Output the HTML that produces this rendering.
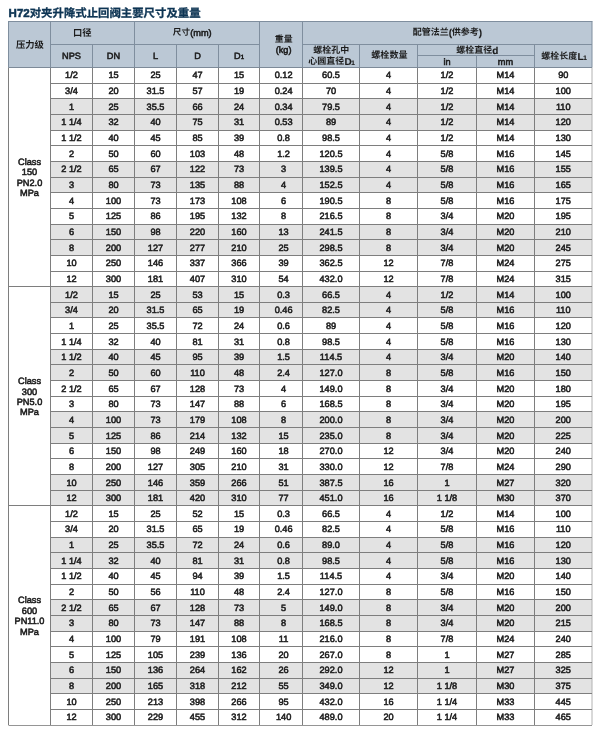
<!DOCTYPE html>
<html lang="zh-CN"><head><meta charset="utf-8">
<title>H72对夹升降式止回阀主要尺寸及重量</title>
<style>
html,body{margin:0;padding:0;background:#fff}
body{width:600px;height:731px;position:relative;overflow:hidden;-webkit-text-stroke:0.55px;font-family:"Liberation Sans","Noto Sans CJK SC",sans-serif;font-size:9.2px;text-rendering:geometricPrecision;color:#1c1c1c}
#grid{position:absolute;left:0;top:0}
#txt{position:absolute;left:0;top:0;width:600px;height:731px;will-change:transform}
h1{position:absolute;margin:0;left:8.6px;top:7px;font-size:11.5px;line-height:14px;font-weight:bold;color:#0d3453;white-space:nowrap;font-family:"Liberation Sans","Noto Sans CJK SC",sans-serif}
h1 .t{font-size:11.4px;-webkit-text-stroke:0.3px}
.c{position:absolute;width:60px;margin-left:-30px;text-align:center;white-space:nowrap;height:11px;line-height:11px}
.h{position:absolute;white-space:nowrap;line-height:11px;height:11px}
.hc{width:60px;margin-left:-30px;text-align:center}
.s{font-size:6px}
.b{font-weight:bold;font-size:10px;-webkit-text-stroke:0.15px}
.b .s{font-size:6.5px;margin-left:-0.3px}
.z{font-weight:bold;-webkit-text-stroke:0;font-family:"Liberation Sans","Noto Sans CJK SC",sans-serif}

</style></head><body>
<svg id="grid" width="600" height="731" viewBox="0 0 600 731">
<rect x="8.5" y="21.5" width="583.5" height="46" fill="#bbc8d5"/>
<rect x="50.5" y="98.81" width="541.5" height="31.31" fill="#e3e3e3"/>
<rect x="50.5" y="161.43" width="541.5" height="31.31" fill="#e3e3e3"/>
<rect x="50.5" y="224.05" width="541.5" height="31.31" fill="#e3e3e3"/>
<rect x="50.5" y="286.67" width="541.5" height="31.31" fill="#e3e3e3"/>
<rect x="50.5" y="349.29" width="541.5" height="31.31" fill="#e3e3e3"/>
<rect x="50.5" y="411.9" width="541.5" height="31.31" fill="#e3e3e3"/>
<rect x="50.5" y="474.52" width="541.5" height="31.31" fill="#e3e3e3"/>
<rect x="50.5" y="537.14" width="541.5" height="31.31" fill="#e3e3e3"/>
<rect x="50.5" y="599.76" width="541.5" height="31.31" fill="#e3e3e3"/>
<rect x="50.5" y="662.38" width="541.5" height="31.31" fill="#e3e3e3"/>
<g stroke="#7f8e9e" stroke-width="1" fill="none">
<path d="M8 21.5H592.5"/>
<path d="M8.5 21.5V67.5"/>
<path d="M50.5 21.5V67.5"/>
<path d="M92.5 44.5V67.5"/>
<path d="M134.5 21.5V67.5"/>
<path d="M176.5 44.5V67.5"/>
<path d="M218.5 44.5V67.5"/>
<path d="M259.5 21.5V67.5"/>
<path d="M302.5 21.5V67.5"/>
<path d="M359.5 44.5V67.5"/>
<path d="M417.5 44.5V67.5"/>
<path d="M476.5 55.5V67.5"/>
<path d="M534.5 44.5V67.5"/>
<path d="M592 21.5V67.5"/>
<path d="M50.5 44.5H259.5"/>
<path d="M302.5 44.5H592"/>
<path d="M417.5 55.5H534.5"/>
</g>
<g stroke="#7e7e7e" stroke-width="1" fill="none">
<path d="M8.5 67.5V725"/>
<path d="M50.5 67.5V725"/>
<path d="M92.5 67.5V725"/>
<path d="M134.5 67.5V725"/>
<path d="M176.5 67.5V725"/>
<path d="M218.5 67.5V725"/>
<path d="M259.5 67.5V725"/>
<path d="M302.5 67.5V725"/>
<path d="M359.5 67.5V725"/>
<path d="M417.5 67.5V725"/>
<path d="M476.5 67.5V725"/>
<path d="M534.5 67.5V725"/>
<path d="M592 67.5V725" stroke="#b2b2b2"/>
<path d="M8.5 67.5H592" stroke="#7d8a98"/>
<path d="M50.5 83.5H592"/>
<path d="M50.5 98.5H592"/>
<path d="M50.5 114.5H592"/>
<path d="M50.5 130.5H592"/>
<path d="M50.5 145.5H592"/>
<path d="M50.5 161.5H592"/>
<path d="M50.5 177.5H592"/>
<path d="M50.5 192.5H592"/>
<path d="M50.5 208.5H592"/>
<path d="M50.5 224.5H592"/>
<path d="M50.5 239.5H592"/>
<path d="M50.5 255.5H592"/>
<path d="M50.5 271.5H592"/>
<path d="M8.5 286.5H592"/>
<path d="M50.5 302.5H592"/>
<path d="M50.5 317.5H592"/>
<path d="M50.5 333.5H592"/>
<path d="M50.5 349.5H592"/>
<path d="M50.5 364.5H592"/>
<path d="M50.5 380.5H592"/>
<path d="M50.5 396.5H592"/>
<path d="M50.5 411.5H592"/>
<path d="M50.5 427.5H592"/>
<path d="M50.5 443.5H592"/>
<path d="M50.5 458.5H592"/>
<path d="M50.5 474.5H592"/>
<path d="M50.5 490.5H592"/>
<path d="M8.5 505.5H592"/>
<path d="M50.5 521.5H592"/>
<path d="M50.5 537.5H592"/>
<path d="M50.5 552.5H592"/>
<path d="M50.5 568.5H592"/>
<path d="M50.5 584.5H592"/>
<path d="M50.5 599.5H592"/>
<path d="M50.5 615.5H592"/>
<path d="M50.5 631.5H592"/>
<path d="M50.5 646.5H592"/>
<path d="M50.5 662.5H592"/>
<path d="M50.5 678.5H592"/>
<path d="M50.5 693.5H592"/>
<path d="M50.5 709.5H592"/>
<path d="M8.5 725.5H592" stroke="#959595"/>
</g>
</svg>
<div id="txt">
<h1>H72<span class="t">对夹升降式止回阀主要尺寸及重量</span></h1>
<div class="h z" style="left:16px;top:39.6px;font-size:9.3px">压力级</div>
<div class="h z" style="left:73px;top:27.6px;font-size:9.3px">口径</div>
<div class="h hc" style="left:71.5px;top:51px">NPS</div>
<div class="h hc" style="left:113.5px;top:51px">DN</div>
<div class="h z" style="left:172.8px;top:27.4px;font-size:8.6px">尺寸</div>
<div class="h" style="left:190.2px;top:28px">(mm)</div>
<div class="h hc" style="left:155.5px;top:51px">L</div>
<div class="h hc" style="left:197.5px;top:51px">D</div>
<div class="h hc" style="left:239px;top:51px">D<span class="s">1</span></div>
<div class="h z" style="left:274.8px;top:33.8px;font-size:8.9px">重量</div>
<div class="h hc" style="left:283.6px;top:45px">(kg)</div>
<div class="h z" style="left:313.2px;top:45px;font-size:9px">螺栓孔中</div>
<div class="h z" style="left:308.2px;top:55.8px;font-size:9px">心圆直径</div>
<div class="h b" style="left:344.4px;top:57px">D<span class="s">1</span></div>
<div class="h z" style="left:371.2px;top:50px;font-size:9.1px">螺栓数量</div>
<div class="h z" style="left:412.8px;top:27.2px;font-size:9px">配管法兰</div>
<div class="h b" style="left:448.8px;top:28px">(</div>
<div class="h z" style="left:451.8px;top:27.2px;font-size:9px">供参考</div>
<div class="h b" style="left:478.8px;top:28px">)</div>
<div class="h z" style="left:456.2px;top:45.2px;font-size:9px">螺栓直径</div>
<div class="h b" style="left:492.3px;top:46px">d</div>
<div class="h hc" style="left:447px;top:57px">in</div>
<div class="h hc" style="left:505.5px;top:57px">mm</div>
<div class="h z" style="left:541.2px;top:51px;font-size:9px">螺栓长度</div>
<div class="h b" style="left:577.4px;top:52px">L<span class="s">1</span></div>
<div class="c" style="left:29.5px;top:157px">Class</div>
<div class="c" style="left:29.5px;top:167px">150</div>
<div class="c" style="left:29.5px;top:178px">PN2.0</div>
<div class="c" style="left:29.5px;top:188px">MPa</div>
<div class="c" style="left:29.5px;top:376px">Class</div>
<div class="c" style="left:29.5px;top:387px">300</div>
<div class="c" style="left:29.5px;top:397px">PN5.0</div>
<div class="c" style="left:29.5px;top:407px">MPa</div>
<div class="c" style="left:29.5px;top:595px">Class</div>
<div class="c" style="left:29.5px;top:606px">600</div>
<div class="c" style="left:29.5px;top:616px">PN11.0</div>
<div class="c" style="left:29.5px;top:627px">MPa</div>
<div class="c" style="left:71.5px;top:70px">1/2</div>
<div class="c" style="left:113.5px;top:70px">15</div>
<div class="c" style="left:155.5px;top:70px">25</div>
<div class="c" style="left:197.5px;top:70px">47</div>
<div class="c" style="left:239px;top:70px">15</div>
<div class="c" style="left:283.6px;top:70px">0.12</div>
<div class="c" style="left:331px;top:70px">60.5</div>
<div class="c" style="left:388.5px;top:70px">4</div>
<div class="c" style="left:447px;top:70px">1/2</div>
<div class="c" style="left:505.5px;top:70px">M14</div>
<div class="c" style="left:563.25px;top:70px">90</div>
<div class="c" style="left:71.5px;top:86px">3/4</div>
<div class="c" style="left:113.5px;top:86px">20</div>
<div class="c" style="left:155.5px;top:86px">31.5</div>
<div class="c" style="left:197.5px;top:86px">57</div>
<div class="c" style="left:239px;top:86px">19</div>
<div class="c" style="left:283.6px;top:86px">0.24</div>
<div class="c" style="left:331px;top:86px">70</div>
<div class="c" style="left:388.5px;top:86px">4</div>
<div class="c" style="left:447px;top:86px">1/2</div>
<div class="c" style="left:505.5px;top:86px">M14</div>
<div class="c" style="left:563.25px;top:86px">100</div>
<div class="c" style="left:71.5px;top:102px">1</div>
<div class="c" style="left:113.5px;top:102px">25</div>
<div class="c" style="left:155.5px;top:102px">35.5</div>
<div class="c" style="left:197.5px;top:102px">66</div>
<div class="c" style="left:239px;top:102px">24</div>
<div class="c" style="left:283.6px;top:102px">0.34</div>
<div class="c" style="left:331px;top:102px">79.5</div>
<div class="c" style="left:388.5px;top:102px">4</div>
<div class="c" style="left:447px;top:102px">1/2</div>
<div class="c" style="left:505.5px;top:102px">M14</div>
<div class="c" style="left:563.25px;top:102px">110</div>
<div class="c" style="left:71.5px;top:117px">1 1/4</div>
<div class="c" style="left:113.5px;top:117px">32</div>
<div class="c" style="left:155.5px;top:117px">40</div>
<div class="c" style="left:197.5px;top:117px">75</div>
<div class="c" style="left:239px;top:117px">31</div>
<div class="c" style="left:283.6px;top:117px">0.53</div>
<div class="c" style="left:331px;top:117px">89</div>
<div class="c" style="left:388.5px;top:117px">4</div>
<div class="c" style="left:447px;top:117px">1/2</div>
<div class="c" style="left:505.5px;top:117px">M14</div>
<div class="c" style="left:563.25px;top:117px">120</div>
<div class="c" style="left:71.5px;top:133px">1 1/2</div>
<div class="c" style="left:113.5px;top:133px">40</div>
<div class="c" style="left:155.5px;top:133px">45</div>
<div class="c" style="left:197.5px;top:133px">85</div>
<div class="c" style="left:239px;top:133px">39</div>
<div class="c" style="left:283.6px;top:133px">0.8</div>
<div class="c" style="left:331px;top:133px">98.5</div>
<div class="c" style="left:388.5px;top:133px">4</div>
<div class="c" style="left:447px;top:133px">1/2</div>
<div class="c" style="left:505.5px;top:133px">M14</div>
<div class="c" style="left:563.25px;top:133px">130</div>
<div class="c" style="left:71.5px;top:149px">2</div>
<div class="c" style="left:113.5px;top:149px">50</div>
<div class="c" style="left:155.5px;top:149px">60</div>
<div class="c" style="left:197.5px;top:149px">103</div>
<div class="c" style="left:239px;top:149px">48</div>
<div class="c" style="left:283.6px;top:149px">1.2</div>
<div class="c" style="left:331px;top:149px">120.5</div>
<div class="c" style="left:388.5px;top:149px">4</div>
<div class="c" style="left:447px;top:149px">5/8</div>
<div class="c" style="left:505.5px;top:149px">M16</div>
<div class="c" style="left:563.25px;top:149px">145</div>
<div class="c" style="left:71.5px;top:164px">2 1/2</div>
<div class="c" style="left:113.5px;top:164px">65</div>
<div class="c" style="left:155.5px;top:164px">67</div>
<div class="c" style="left:197.5px;top:164px">122</div>
<div class="c" style="left:239px;top:164px">73</div>
<div class="c" style="left:283.6px;top:164px">3</div>
<div class="c" style="left:331px;top:164px">139.5</div>
<div class="c" style="left:388.5px;top:164px">4</div>
<div class="c" style="left:447px;top:164px">5/8</div>
<div class="c" style="left:505.5px;top:164px">M16</div>
<div class="c" style="left:563.25px;top:164px">155</div>
<div class="c" style="left:71.5px;top:180px">3</div>
<div class="c" style="left:113.5px;top:180px">80</div>
<div class="c" style="left:155.5px;top:180px">73</div>
<div class="c" style="left:197.5px;top:180px">135</div>
<div class="c" style="left:239px;top:180px">88</div>
<div class="c" style="left:283.6px;top:180px">4</div>
<div class="c" style="left:331px;top:180px">152.5</div>
<div class="c" style="left:388.5px;top:180px">4</div>
<div class="c" style="left:447px;top:180px">5/8</div>
<div class="c" style="left:505.5px;top:180px">M16</div>
<div class="c" style="left:563.25px;top:180px">165</div>
<div class="c" style="left:71.5px;top:196px">4</div>
<div class="c" style="left:113.5px;top:196px">100</div>
<div class="c" style="left:155.5px;top:196px">73</div>
<div class="c" style="left:197.5px;top:196px">173</div>
<div class="c" style="left:239px;top:196px">108</div>
<div class="c" style="left:283.6px;top:196px">6</div>
<div class="c" style="left:331px;top:196px">190.5</div>
<div class="c" style="left:388.5px;top:196px">8</div>
<div class="c" style="left:447px;top:196px">5/8</div>
<div class="c" style="left:505.5px;top:196px">M16</div>
<div class="c" style="left:563.25px;top:196px">175</div>
<div class="c" style="left:71.5px;top:211px">5</div>
<div class="c" style="left:113.5px;top:211px">125</div>
<div class="c" style="left:155.5px;top:211px">86</div>
<div class="c" style="left:197.5px;top:211px">195</div>
<div class="c" style="left:239px;top:211px">132</div>
<div class="c" style="left:283.6px;top:211px">8</div>
<div class="c" style="left:331px;top:211px">216.5</div>
<div class="c" style="left:388.5px;top:211px">8</div>
<div class="c" style="left:447px;top:211px">3/4</div>
<div class="c" style="left:505.5px;top:211px">M20</div>
<div class="c" style="left:563.25px;top:211px">195</div>
<div class="c" style="left:71.5px;top:227px">6</div>
<div class="c" style="left:113.5px;top:227px">150</div>
<div class="c" style="left:155.5px;top:227px">98</div>
<div class="c" style="left:197.5px;top:227px">220</div>
<div class="c" style="left:239px;top:227px">160</div>
<div class="c" style="left:283.6px;top:227px">13</div>
<div class="c" style="left:331px;top:227px">241.5</div>
<div class="c" style="left:388.5px;top:227px">8</div>
<div class="c" style="left:447px;top:227px">3/4</div>
<div class="c" style="left:505.5px;top:227px">M20</div>
<div class="c" style="left:563.25px;top:227px">210</div>
<div class="c" style="left:71.5px;top:243px">8</div>
<div class="c" style="left:113.5px;top:243px">200</div>
<div class="c" style="left:155.5px;top:243px">127</div>
<div class="c" style="left:197.5px;top:243px">277</div>
<div class="c" style="left:239px;top:243px">210</div>
<div class="c" style="left:283.6px;top:243px">25</div>
<div class="c" style="left:331px;top:243px">298.5</div>
<div class="c" style="left:388.5px;top:243px">8</div>
<div class="c" style="left:447px;top:243px">3/4</div>
<div class="c" style="left:505.5px;top:243px">M20</div>
<div class="c" style="left:563.25px;top:243px">245</div>
<div class="c" style="left:71.5px;top:258px">10</div>
<div class="c" style="left:113.5px;top:258px">250</div>
<div class="c" style="left:155.5px;top:258px">146</div>
<div class="c" style="left:197.5px;top:258px">337</div>
<div class="c" style="left:239px;top:258px">366</div>
<div class="c" style="left:283.6px;top:258px">39</div>
<div class="c" style="left:331px;top:258px">362.5</div>
<div class="c" style="left:388.5px;top:258px">12</div>
<div class="c" style="left:447px;top:258px">7/8</div>
<div class="c" style="left:505.5px;top:258px">M24</div>
<div class="c" style="left:563.25px;top:258px">275</div>
<div class="c" style="left:71.5px;top:274px">12</div>
<div class="c" style="left:113.5px;top:274px">300</div>
<div class="c" style="left:155.5px;top:274px">181</div>
<div class="c" style="left:197.5px;top:274px">407</div>
<div class="c" style="left:239px;top:274px">310</div>
<div class="c" style="left:283.6px;top:274px">54</div>
<div class="c" style="left:331px;top:274px">432.0</div>
<div class="c" style="left:388.5px;top:274px">12</div>
<div class="c" style="left:447px;top:274px">7/8</div>
<div class="c" style="left:505.5px;top:274px">M24</div>
<div class="c" style="left:563.25px;top:274px">315</div>
<div class="c" style="left:71.5px;top:290px">1/2</div>
<div class="c" style="left:113.5px;top:290px">15</div>
<div class="c" style="left:155.5px;top:290px">25</div>
<div class="c" style="left:197.5px;top:290px">53</div>
<div class="c" style="left:239px;top:290px">15</div>
<div class="c" style="left:283.6px;top:290px">0.3</div>
<div class="c" style="left:331px;top:290px">66.5</div>
<div class="c" style="left:388.5px;top:290px">4</div>
<div class="c" style="left:447px;top:290px">1/2</div>
<div class="c" style="left:505.5px;top:290px">M14</div>
<div class="c" style="left:563.25px;top:290px">100</div>
<div class="c" style="left:71.5px;top:305px">3/4</div>
<div class="c" style="left:113.5px;top:305px">20</div>
<div class="c" style="left:155.5px;top:305px">31.5</div>
<div class="c" style="left:197.5px;top:305px">65</div>
<div class="c" style="left:239px;top:305px">19</div>
<div class="c" style="left:283.6px;top:305px">0.46</div>
<div class="c" style="left:331px;top:305px">82.5</div>
<div class="c" style="left:388.5px;top:305px">4</div>
<div class="c" style="left:447px;top:305px">5/8</div>
<div class="c" style="left:505.5px;top:305px">M16</div>
<div class="c" style="left:563.25px;top:305px">110</div>
<div class="c" style="left:71.5px;top:321px">1</div>
<div class="c" style="left:113.5px;top:321px">25</div>
<div class="c" style="left:155.5px;top:321px">35.5</div>
<div class="c" style="left:197.5px;top:321px">72</div>
<div class="c" style="left:239px;top:321px">24</div>
<div class="c" style="left:283.6px;top:321px">0.6</div>
<div class="c" style="left:331px;top:321px">89</div>
<div class="c" style="left:388.5px;top:321px">4</div>
<div class="c" style="left:447px;top:321px">5/8</div>
<div class="c" style="left:505.5px;top:321px">M16</div>
<div class="c" style="left:563.25px;top:321px">120</div>
<div class="c" style="left:71.5px;top:337px">1 1/4</div>
<div class="c" style="left:113.5px;top:337px">32</div>
<div class="c" style="left:155.5px;top:337px">40</div>
<div class="c" style="left:197.5px;top:337px">81</div>
<div class="c" style="left:239px;top:337px">31</div>
<div class="c" style="left:283.6px;top:337px">0.8</div>
<div class="c" style="left:331px;top:337px">98.5</div>
<div class="c" style="left:388.5px;top:337px">4</div>
<div class="c" style="left:447px;top:337px">5/8</div>
<div class="c" style="left:505.5px;top:337px">M16</div>
<div class="c" style="left:563.25px;top:337px">130</div>
<div class="c" style="left:71.5px;top:352px">1 1/2</div>
<div class="c" style="left:113.5px;top:352px">40</div>
<div class="c" style="left:155.5px;top:352px">45</div>
<div class="c" style="left:197.5px;top:352px">95</div>
<div class="c" style="left:239px;top:352px">39</div>
<div class="c" style="left:283.6px;top:352px">1.5</div>
<div class="c" style="left:331px;top:352px">114.5</div>
<div class="c" style="left:388.5px;top:352px">4</div>
<div class="c" style="left:447px;top:352px">3/4</div>
<div class="c" style="left:505.5px;top:352px">M20</div>
<div class="c" style="left:563.25px;top:352px">140</div>
<div class="c" style="left:71.5px;top:368px">2</div>
<div class="c" style="left:113.5px;top:368px">50</div>
<div class="c" style="left:155.5px;top:368px">60</div>
<div class="c" style="left:197.5px;top:368px">110</div>
<div class="c" style="left:239px;top:368px">48</div>
<div class="c" style="left:283.6px;top:368px">2.4</div>
<div class="c" style="left:331px;top:368px">127.0</div>
<div class="c" style="left:388.5px;top:368px">8</div>
<div class="c" style="left:447px;top:368px">5/8</div>
<div class="c" style="left:505.5px;top:368px">M16</div>
<div class="c" style="left:563.25px;top:368px">150</div>
<div class="c" style="left:71.5px;top:384px">2 1/2</div>
<div class="c" style="left:113.5px;top:384px">65</div>
<div class="c" style="left:155.5px;top:384px">67</div>
<div class="c" style="left:197.5px;top:384px">128</div>
<div class="c" style="left:239px;top:384px">73</div>
<div class="c" style="left:283.6px;top:384px">4</div>
<div class="c" style="left:331px;top:384px">149.0</div>
<div class="c" style="left:388.5px;top:384px">8</div>
<div class="c" style="left:447px;top:384px">3/4</div>
<div class="c" style="left:505.5px;top:384px">M20</div>
<div class="c" style="left:563.25px;top:384px">180</div>
<div class="c" style="left:71.5px;top:399px">3</div>
<div class="c" style="left:113.5px;top:399px">80</div>
<div class="c" style="left:155.5px;top:399px">73</div>
<div class="c" style="left:197.5px;top:399px">147</div>
<div class="c" style="left:239px;top:399px">88</div>
<div class="c" style="left:283.6px;top:399px">6</div>
<div class="c" style="left:331px;top:399px">168.5</div>
<div class="c" style="left:388.5px;top:399px">8</div>
<div class="c" style="left:447px;top:399px">3/4</div>
<div class="c" style="left:505.5px;top:399px">M20</div>
<div class="c" style="left:563.25px;top:399px">195</div>
<div class="c" style="left:71.5px;top:415px">4</div>
<div class="c" style="left:113.5px;top:415px">100</div>
<div class="c" style="left:155.5px;top:415px">73</div>
<div class="c" style="left:197.5px;top:415px">179</div>
<div class="c" style="left:239px;top:415px">108</div>
<div class="c" style="left:283.6px;top:415px">8</div>
<div class="c" style="left:331px;top:415px">200.0</div>
<div class="c" style="left:388.5px;top:415px">8</div>
<div class="c" style="left:447px;top:415px">3/4</div>
<div class="c" style="left:505.5px;top:415px">M20</div>
<div class="c" style="left:563.25px;top:415px">200</div>
<div class="c" style="left:71.5px;top:431px">5</div>
<div class="c" style="left:113.5px;top:431px">125</div>
<div class="c" style="left:155.5px;top:431px">86</div>
<div class="c" style="left:197.5px;top:431px">214</div>
<div class="c" style="left:239px;top:431px">132</div>
<div class="c" style="left:283.6px;top:431px">15</div>
<div class="c" style="left:331px;top:431px">235.0</div>
<div class="c" style="left:388.5px;top:431px">8</div>
<div class="c" style="left:447px;top:431px">3/4</div>
<div class="c" style="left:505.5px;top:431px">M20</div>
<div class="c" style="left:563.25px;top:431px">225</div>
<div class="c" style="left:71.5px;top:446px">6</div>
<div class="c" style="left:113.5px;top:446px">150</div>
<div class="c" style="left:155.5px;top:446px">98</div>
<div class="c" style="left:197.5px;top:446px">249</div>
<div class="c" style="left:239px;top:446px">160</div>
<div class="c" style="left:283.6px;top:446px">18</div>
<div class="c" style="left:331px;top:446px">270.0</div>
<div class="c" style="left:388.5px;top:446px">12</div>
<div class="c" style="left:447px;top:446px">3/4</div>
<div class="c" style="left:505.5px;top:446px">M20</div>
<div class="c" style="left:563.25px;top:446px">240</div>
<div class="c" style="left:71.5px;top:462px">8</div>
<div class="c" style="left:113.5px;top:462px">200</div>
<div class="c" style="left:155.5px;top:462px">127</div>
<div class="c" style="left:197.5px;top:462px">305</div>
<div class="c" style="left:239px;top:462px">210</div>
<div class="c" style="left:283.6px;top:462px">31</div>
<div class="c" style="left:331px;top:462px">330.0</div>
<div class="c" style="left:388.5px;top:462px">12</div>
<div class="c" style="left:447px;top:462px">7/8</div>
<div class="c" style="left:505.5px;top:462px">M24</div>
<div class="c" style="left:563.25px;top:462px">290</div>
<div class="c" style="left:71.5px;top:478px">10</div>
<div class="c" style="left:113.5px;top:478px">250</div>
<div class="c" style="left:155.5px;top:478px">146</div>
<div class="c" style="left:197.5px;top:478px">359</div>
<div class="c" style="left:239px;top:478px">266</div>
<div class="c" style="left:283.6px;top:478px">51</div>
<div class="c" style="left:331px;top:478px">387.5</div>
<div class="c" style="left:388.5px;top:478px">16</div>
<div class="c" style="left:447px;top:478px">1</div>
<div class="c" style="left:505.5px;top:478px">M27</div>
<div class="c" style="left:563.25px;top:478px">320</div>
<div class="c" style="left:71.5px;top:493px">12</div>
<div class="c" style="left:113.5px;top:493px">300</div>
<div class="c" style="left:155.5px;top:493px">181</div>
<div class="c" style="left:197.5px;top:493px">420</div>
<div class="c" style="left:239px;top:493px">310</div>
<div class="c" style="left:283.6px;top:493px">77</div>
<div class="c" style="left:331px;top:493px">451.0</div>
<div class="c" style="left:388.5px;top:493px">16</div>
<div class="c" style="left:447px;top:493px">1 1/8</div>
<div class="c" style="left:505.5px;top:493px">M30</div>
<div class="c" style="left:563.25px;top:493px">370</div>
<div class="c" style="left:71.5px;top:509px">1/2</div>
<div class="c" style="left:113.5px;top:509px">15</div>
<div class="c" style="left:155.5px;top:509px">25</div>
<div class="c" style="left:197.5px;top:509px">52</div>
<div class="c" style="left:239px;top:509px">15</div>
<div class="c" style="left:283.6px;top:509px">0.3</div>
<div class="c" style="left:331px;top:509px">66.5</div>
<div class="c" style="left:388.5px;top:509px">4</div>
<div class="c" style="left:447px;top:509px">1/2</div>
<div class="c" style="left:505.5px;top:509px">M14</div>
<div class="c" style="left:563.25px;top:509px">100</div>
<div class="c" style="left:71.5px;top:524px">3/4</div>
<div class="c" style="left:113.5px;top:524px">20</div>
<div class="c" style="left:155.5px;top:524px">31.5</div>
<div class="c" style="left:197.5px;top:524px">65</div>
<div class="c" style="left:239px;top:524px">19</div>
<div class="c" style="left:283.6px;top:524px">0.46</div>
<div class="c" style="left:331px;top:524px">82.5</div>
<div class="c" style="left:388.5px;top:524px">4</div>
<div class="c" style="left:447px;top:524px">5/8</div>
<div class="c" style="left:505.5px;top:524px">M16</div>
<div class="c" style="left:563.25px;top:524px">110</div>
<div class="c" style="left:71.5px;top:540px">1</div>
<div class="c" style="left:113.5px;top:540px">25</div>
<div class="c" style="left:155.5px;top:540px">35.5</div>
<div class="c" style="left:197.5px;top:540px">72</div>
<div class="c" style="left:239px;top:540px">24</div>
<div class="c" style="left:283.6px;top:540px">0.6</div>
<div class="c" style="left:331px;top:540px">89.0</div>
<div class="c" style="left:388.5px;top:540px">4</div>
<div class="c" style="left:447px;top:540px">5/8</div>
<div class="c" style="left:505.5px;top:540px">M16</div>
<div class="c" style="left:563.25px;top:540px">120</div>
<div class="c" style="left:71.5px;top:556px">1 1/4</div>
<div class="c" style="left:113.5px;top:556px">32</div>
<div class="c" style="left:155.5px;top:556px">40</div>
<div class="c" style="left:197.5px;top:556px">81</div>
<div class="c" style="left:239px;top:556px">31</div>
<div class="c" style="left:283.6px;top:556px">0.8</div>
<div class="c" style="left:331px;top:556px">98.5</div>
<div class="c" style="left:388.5px;top:556px">4</div>
<div class="c" style="left:447px;top:556px">5/8</div>
<div class="c" style="left:505.5px;top:556px">M16</div>
<div class="c" style="left:563.25px;top:556px">130</div>
<div class="c" style="left:71.5px;top:571px">1 1/2</div>
<div class="c" style="left:113.5px;top:571px">40</div>
<div class="c" style="left:155.5px;top:571px">45</div>
<div class="c" style="left:197.5px;top:571px">94</div>
<div class="c" style="left:239px;top:571px">39</div>
<div class="c" style="left:283.6px;top:571px">1.5</div>
<div class="c" style="left:331px;top:571px">114.5</div>
<div class="c" style="left:388.5px;top:571px">4</div>
<div class="c" style="left:447px;top:571px">3/4</div>
<div class="c" style="left:505.5px;top:571px">M20</div>
<div class="c" style="left:563.25px;top:571px">140</div>
<div class="c" style="left:71.5px;top:587px">2</div>
<div class="c" style="left:113.5px;top:587px">50</div>
<div class="c" style="left:155.5px;top:587px">56</div>
<div class="c" style="left:197.5px;top:587px">110</div>
<div class="c" style="left:239px;top:587px">48</div>
<div class="c" style="left:283.6px;top:587px">2.4</div>
<div class="c" style="left:331px;top:587px">127.0</div>
<div class="c" style="left:388.5px;top:587px">8</div>
<div class="c" style="left:447px;top:587px">5/8</div>
<div class="c" style="left:505.5px;top:587px">M16</div>
<div class="c" style="left:563.25px;top:587px">150</div>
<div class="c" style="left:71.5px;top:603px">2 1/2</div>
<div class="c" style="left:113.5px;top:603px">65</div>
<div class="c" style="left:155.5px;top:603px">67</div>
<div class="c" style="left:197.5px;top:603px">128</div>
<div class="c" style="left:239px;top:603px">73</div>
<div class="c" style="left:283.6px;top:603px">5</div>
<div class="c" style="left:331px;top:603px">149.0</div>
<div class="c" style="left:388.5px;top:603px">8</div>
<div class="c" style="left:447px;top:603px">3/4</div>
<div class="c" style="left:505.5px;top:603px">M20</div>
<div class="c" style="left:563.25px;top:603px">200</div>
<div class="c" style="left:71.5px;top:618px">3</div>
<div class="c" style="left:113.5px;top:618px">80</div>
<div class="c" style="left:155.5px;top:618px">73</div>
<div class="c" style="left:197.5px;top:618px">147</div>
<div class="c" style="left:239px;top:618px">88</div>
<div class="c" style="left:283.6px;top:618px">8</div>
<div class="c" style="left:331px;top:618px">168.5</div>
<div class="c" style="left:388.5px;top:618px">8</div>
<div class="c" style="left:447px;top:618px">3/4</div>
<div class="c" style="left:505.5px;top:618px">M20</div>
<div class="c" style="left:563.25px;top:618px">215</div>
<div class="c" style="left:71.5px;top:634px">4</div>
<div class="c" style="left:113.5px;top:634px">100</div>
<div class="c" style="left:155.5px;top:634px">79</div>
<div class="c" style="left:197.5px;top:634px">191</div>
<div class="c" style="left:239px;top:634px">108</div>
<div class="c" style="left:283.6px;top:634px">11</div>
<div class="c" style="left:331px;top:634px">216.0</div>
<div class="c" style="left:388.5px;top:634px">8</div>
<div class="c" style="left:447px;top:634px">7/8</div>
<div class="c" style="left:505.5px;top:634px">M24</div>
<div class="c" style="left:563.25px;top:634px">240</div>
<div class="c" style="left:71.5px;top:650px">5</div>
<div class="c" style="left:113.5px;top:650px">125</div>
<div class="c" style="left:155.5px;top:650px">105</div>
<div class="c" style="left:197.5px;top:650px">239</div>
<div class="c" style="left:239px;top:650px">136</div>
<div class="c" style="left:283.6px;top:650px">20</div>
<div class="c" style="left:331px;top:650px">267.0</div>
<div class="c" style="left:388.5px;top:650px">8</div>
<div class="c" style="left:447px;top:650px">1</div>
<div class="c" style="left:505.5px;top:650px">M27</div>
<div class="c" style="left:563.25px;top:650px">285</div>
<div class="c" style="left:71.5px;top:665px">6</div>
<div class="c" style="left:113.5px;top:665px">150</div>
<div class="c" style="left:155.5px;top:665px">136</div>
<div class="c" style="left:197.5px;top:665px">264</div>
<div class="c" style="left:239px;top:665px">162</div>
<div class="c" style="left:283.6px;top:665px">26</div>
<div class="c" style="left:331px;top:665px">292.0</div>
<div class="c" style="left:388.5px;top:665px">12</div>
<div class="c" style="left:447px;top:665px">1</div>
<div class="c" style="left:505.5px;top:665px">M27</div>
<div class="c" style="left:563.25px;top:665px">325</div>
<div class="c" style="left:71.5px;top:681px">8</div>
<div class="c" style="left:113.5px;top:681px">200</div>
<div class="c" style="left:155.5px;top:681px">165</div>
<div class="c" style="left:197.5px;top:681px">318</div>
<div class="c" style="left:239px;top:681px">212</div>
<div class="c" style="left:283.6px;top:681px">55</div>
<div class="c" style="left:331px;top:681px">349.0</div>
<div class="c" style="left:388.5px;top:681px">12</div>
<div class="c" style="left:447px;top:681px">1 1/8</div>
<div class="c" style="left:505.5px;top:681px">M30</div>
<div class="c" style="left:563.25px;top:681px">375</div>
<div class="c" style="left:71.5px;top:697px">10</div>
<div class="c" style="left:113.5px;top:697px">250</div>
<div class="c" style="left:155.5px;top:697px">213</div>
<div class="c" style="left:197.5px;top:697px">398</div>
<div class="c" style="left:239px;top:697px">266</div>
<div class="c" style="left:283.6px;top:697px">95</div>
<div class="c" style="left:331px;top:697px">432.0</div>
<div class="c" style="left:388.5px;top:697px">16</div>
<div class="c" style="left:447px;top:697px">1 1/4</div>
<div class="c" style="left:505.5px;top:697px">M33</div>
<div class="c" style="left:563.25px;top:697px">445</div>
<div class="c" style="left:71.5px;top:712px">12</div>
<div class="c" style="left:113.5px;top:712px">300</div>
<div class="c" style="left:155.5px;top:712px">229</div>
<div class="c" style="left:197.5px;top:712px">455</div>
<div class="c" style="left:239px;top:712px">312</div>
<div class="c" style="left:283.6px;top:712px">140</div>
<div class="c" style="left:331px;top:712px">489.0</div>
<div class="c" style="left:388.5px;top:712px">20</div>
<div class="c" style="left:447px;top:712px">1 1/4</div>
<div class="c" style="left:505.5px;top:712px">M33</div>
<div class="c" style="left:563.25px;top:712px">465</div>
</div>
</body></html>
